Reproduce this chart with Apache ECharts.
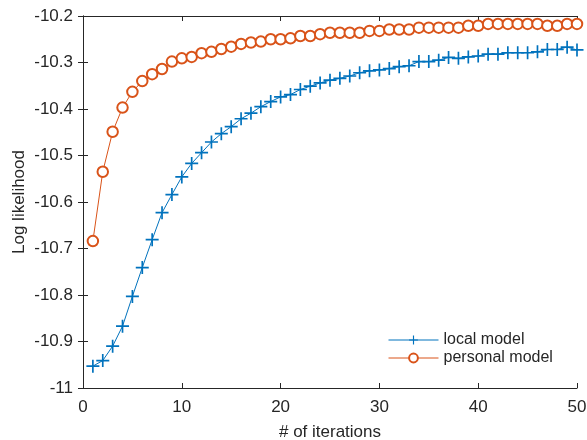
<!DOCTYPE html>
<html>
<head>
<meta charset="utf-8">
<script src="https://cdn.jsdelivr.net/npm/echarts@6/dist/echarts.min.js"></script>
<style>
  html, body { margin: 0; padding: 0; background: #fff; }
  #chart { width: 587px; height: 440px; }
</style>
</head>
<body>
<div id="chart"></div>
<script>
// iterations 1..50
const iterations = [1,2,3,4,5,6,7,8,9,10,11,12,13,14,15,16,17,18,19,20,21,22,23,24,25,
  26,27,28,29,30,31,32,33,34,35,36,37,38,39,40,41,42,43,44,45,46,47,48,49,50];

const localModel = [-10.953,-10.941,-10.910,-10.867,-10.803,-10.741,-10.681,-10.623,-10.584,-10.546,
  -10.517,-10.494,-10.471,-10.453,-10.438,-10.421,-10.409,-10.395,-10.384,-10.374,
  -10.369,-10.358,-10.351,-10.344,-10.338,-10.334,-10.329,-10.322,-10.318,-10.316,
  -10.313,-10.309,-10.307,-10.298,-10.298,-10.295,-10.289,-10.291,-10.288,-10.286,
  -10.282,-10.282,-10.279,-10.279,-10.279,-10.277,-10.272,-10.272,-10.267,-10.273];

const personalModel = [-10.684,-10.535,-10.449,-10.397,-10.363,-10.340,-10.325,-10.314,-10.298,-10.291,
  -10.288,-10.280,-10.277,-10.271,-10.266,-10.260,-10.257,-10.255,-10.250,-10.250,
  -10.248,-10.243,-10.243,-10.239,-10.236,-10.236,-10.236,-10.236,-10.232,-10.232,
  -10.229,-10.229,-10.229,-10.225,-10.225,-10.225,-10.225,-10.225,-10.221,-10.221,
  -10.217,-10.217,-10.217,-10.217,-10.217,-10.217,-10.221,-10.221,-10.217,-10.217];

const seriesNames = ['local model', 'personal model'];

const font = 'Liberation Sans, Arial, Helvetica, sans-serif';
const axisColor = '#262626';
const plusPath = 'path://M-1,-0.13H-0.13V-1H0.13V-0.13H1V0.13H0.13V1H-0.13V0.13H-1Z';

const chart = echarts.init(document.getElementById('chart'));

const boxAxis = {
  axisLine: { show: true, lineStyle: { color: axisColor, width: 1 } },
  axisTick: { show: true, inside: true, length: 5, lineStyle: { color: axisColor } },
  axisLabel: { show: false },
  splitLine: { show: false }
};

const option = {
  animation: false,
  grid: { left: 83, right: 10, top: 16, bottom: 52, outerBoundsMode: 'none', containLabel: false },
  xAxis: [
    {
      type: 'value', min: 0, max: 50, interval: 10,
      name: '# of iterations', nameLocation: 'middle', nameGap: 36,
      nameTextStyle: { color: axisColor, fontSize: 17, fontFamily: font },
      axisLine: { show: true, onZero: false, lineStyle: { color: axisColor, width: 1 } },
      axisTick: { show: true, inside: true, length: 5, lineStyle: { color: axisColor } },
      axisLabel: { color: axisColor, fontSize: 17, fontFamily: font, margin: 11 },
      splitLine: { show: false }
    },
    Object.assign({ type: 'value', min: 0, max: 50, interval: 10, position: 'top' }, boxAxis)
  ],
  yAxis: [
    {
      type: 'value', min: -11, max: -10.2, interval: 0.1,
      name: 'Log likelihood', nameLocation: 'middle', nameGap: 55, nameMoveOverlap: false,
      nameTextStyle: { color: axisColor, fontSize: 17, fontFamily: font },
      axisLine: { show: true, onZero: false, lineStyle: { color: axisColor, width: 1 } },
      axisTick: { show: true, inside: true, length: 5, lineStyle: { color: axisColor } },
      axisLabel: {
        color: axisColor, fontSize: 17, fontFamily: font, margin: 10,
        formatter: v => (Math.round(v * 10) / 10).toString()
      },
      splitLine: { show: false }
    },
    Object.assign({ type: 'value', min: -11, max: -10.2, interval: 0.1, position: 'right' }, boxAxis)
  ],
  legend: {
    orient: 'vertical',
    left: 383, top: 327,
    itemWidth: 50, itemHeight: 11, itemGap: 2,
    lineStyle: { width: 1 },
    textStyle: { color: axisColor, fontSize: 16, fontFamily: font },
    data: seriesNames
  },
  series: [
    {
      name: seriesNames[0], type: 'line',
      data: iterations.map((x, i) => [x, localModel[i]]),
      symbol: plusPath, symbolSize: 13,
      itemStyle: { color: '#0072BD' },
      lineStyle: { color: '#0072BD', width: 1 }
    },
    {
      name: seriesNames[1], type: 'line',
      data: iterations.map((x, i) => [x, personalModel[i]]),
      symbol: 'emptyCircle', symbolSize: 10.5,
      itemStyle: { color: '#D95319', borderWidth: 1.3, borderColor: '#D95319' },
      lineStyle: { color: '#D95319', width: 1 }
    }
  ]
};

chart.setOption(option);
</script>
</body>
</html>
